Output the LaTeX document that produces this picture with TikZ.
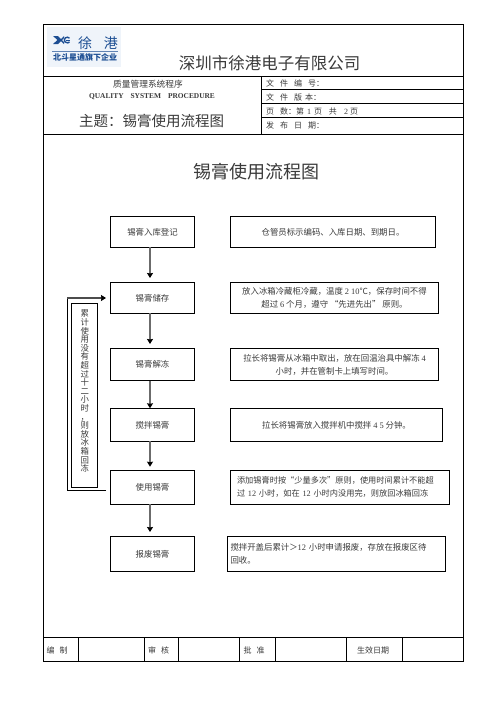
\documentclass[tikz,border=0pt]{standalone}
\usepackage{fontspec}
\setmainfont{Noto Sans CJK SC}
\newfontfamily\latf{Liberation Serif}
\newcommand{\latn}[1]{{\latf #1}}
\usetikzlibrary{arrows.meta}
\definecolor{inkc}{HTML}{3A3A3A}
\definecolor{logoblue}{HTML}{1C4E93}
\definecolor{logobg}{HTML}{EFF4FA}
\newcommand{\fs}[2]{\fontsize{#1}{#2}\selectfont}
\tikzset{
  x=1pt,y=-1pt,
  frame/.style={line width=0.9pt,black},
  txt/.style={inner sep=0pt,outer sep=0pt,text=inkc},
  boxn/.style={draw=black,line width=0.9pt,inner sep=0pt,outer sep=0pt,text=inkc,align=center,font=\fs{8.4}{12.8}},
  leftb/.style={boxn,minimum height=31pt,minimum width=84.4pt},
  rightb/.style={boxn,minimum height=31pt},
  flow/.style={draw=black!58,line width=1.7pt,-{Stealth[color=black,length=5pt,width=6pt,inset=0.5pt]}},
  hd/.style={txt,anchor=west,font=\fs{8}{10}},
  ft/.style={txt,font=\fs{8}{10}}
}
\begin{document}
\begin{tikzpicture}
\useasboundingbox (0,0) rectangle (496,702);
\fill[white] (0,0) rectangle (496,702);
% form
\draw[frame] (43.5,24.5) rectangle (463.3,661.3);
\draw[frame] (43.5,76) -- (463.3,76);
\draw[frame] (43.5,134) -- (463.3,134);
\draw[frame] (261,76) -- (261,134);
\draw[frame] (261,89.5) -- (463.3,89.5);
\draw[frame] (261,103.5) -- (463.3,103.5);
\draw[frame] (261,117.5) -- (463.3,117.5);
\draw[frame] (43.5,637.5) -- (463.3,637.5);
\foreach \xx in {78,144,178,239,275,346,402} \draw[frame] (\xx,637.5) -- (\xx,661.3);
% logo
\fill[logobg] (47,27) rectangle (121,67);
\fill[logoblue] (53,36) -- (58,36) -- (61,39) -- (64,36) -- (64,38) -- (62,40) -- (64,42) -- (64,44) -- (61,41) -- (58,44) -- (53,44) -- (57.5,40) -- cycle;
\draw[logoblue,line width=1.4pt] (69.5,38.2) arc (-40:-320:2.9) ;
\draw[logoblue,line width=1pt] (65.5,40) -- (69.5,40);
\draw[logoblue!70,line width=0.4pt] (52,51) -- (118,51);
\node[txt,text=logoblue] (logoa) at (98,43) {\fs{14}{16}徐\hspace{12pt}港};
\node[txt,text=logoblue] (logob) at (85,57) {\fs{8}{10}\bfseries 北斗星通旗下企业};
% header texts
\node[txt] (company) at (269.5,63) {\fs{16.5}{18}深圳市徐港电子有限公司};
\node[txt] (qm) at (148,84) {\fs{8.7}{10}质量管理系统程序};
\node[txt] (qsp) at (152,97) {\fs{7.4}{9}\latf\bfseries QUALITY\hspace{7pt}SYSTEM\hspace{7pt}PROCEDURE};
\node[txt] (subj) at (151.5,120.5) {\fs{14.5}{16}主题：锡膏使用流程图};
\node[hd] (h1) at (266,83) {文\hspace{6pt}件\hspace{6pt}编\hspace{6pt}号：};
\node[hd] (h2) at (266,97) {文\hspace{6pt}件\hspace{6pt}版\hspace{3pt}本：};
\node[hd] (h3) at (266,111) {页\hspace{6pt}数：第\hspace{3pt}\latn{1}\hspace{3pt}页\hspace{7pt}共\hspace{7pt}\latn{2}\hspace{2pt}页};
\node[hd] (h4) at (266,125.5) {发\hspace{6pt}布\hspace{6pt}日\hspace{6pt}期：};
% title
\node[txt] (title) at (256,172) {\fs{18}{20}锡膏使用流程图};
% left boxes
\node[leftb] (a) at (152.5,231.8) {锡膏入库登记};
\node[leftb] (b) at (152.5,297.8) {锡膏储存};
\node[leftb,minimum height=32.4pt] (c) at (152.5,364.5) {锡膏解冻};
\node[leftb,minimum height=33pt] (d) at (152.5,424.8) {搅拌锡膏};
\node[leftb,minimum height=34pt] (e) at (152.5,487.3) {使用锡膏};
\node[leftb,minimum height=35pt] (f) at (152.5,553.8) {报废锡膏};
% right boxes
\node[rightb,minimum width=205.4pt] (ra) at (333,231.8) {仓管员标示编码、入库日期、到期日。};
\node[rightb,minimum width=208.4pt] (rb) at (334.5,297.8) {放入冰箱冷藏柜冷藏，温度 \latn{2 10}℃，保存时间不得\\超过 \latn{6} 个月，遵守 “先进先出” 原则。};
\node[rightb,minimum width=208.4pt,minimum height=32.4pt] (rc) at (334.5,364.5) {拉长将锡膏从冰箱中取出，放在回温治具中解冻 \latn{4}\\小时，并在管制卡上填写时间。};
\node[rightb,minimum width=212.4pt,minimum height=33pt] (rd) at (336.5,424.8) {拉长将锡膏放入搅拌机中搅拌 \latn{4 5} 分钟。};
\node[rightb,minimum width=219.4pt,minimum height=34pt,text width=206pt,inner xsep=6.7pt,align=left,font=\fs{8.2}{13}] (re) at (340,487.3) {\rlap{添加锡膏时按“少量多次”原则，使用时间累计不能超}\\\rlap{过 \latn{12} 小时，如在 \latn{12} 小时内没用完，则放回冰箱回冻}};
\node[rightb,minimum width=218.4pt,minimum height=35pt,text width=212pt,inner xsep=3.2pt,align=left,font=\fs{8.4}{13.3}] (rf) at (336.5,553.8) {搅拌开盖后累计＞\latn{12} 小时申请报废，存放在报废区待\\回收。};
% side box
\node[boxn,minimum width=26pt,minimum height=184pt,text width=26pt,font=\fs{8.4}{8.6}] (side) at (84.7,395.3) {累\\计\\使\\用\\没\\有\\超\\过\\十\\二\\小\\时\\，\\则\\放\\冰\\箱\\回\\冻\\\mbox{}};
% flow arrows
\draw[flow,shorten >=4.3pt] ([xshift=-2.5pt]a.south) -- ([xshift=-2.5pt]b.north);
\draw[flow,shorten >=4.3pt] ([xshift=-2.5pt]b.south) -- ([xshift=-2.5pt]c.north);
\draw[flow] ([xshift=-2.5pt]c.south) -- ([xshift=-2.5pt]d.north);
\draw[flow,shorten >=3.6pt] ([xshift=-2.5pt]d.south) -- ([xshift=-2.5pt]e.north);
\draw[flow,shorten >=4.3pt] ([xshift=-2.5pt]e.south) -- ([xshift=-2.5pt]f.north);
% return loop
\coordinate (ls) at (106,490.3);
\coordinate (lc) at (67.3,490.3);
\coordinate (ld) at (67.3,298);
\coordinate (le) at (106,298);
\draw[frame] (ls) -- (lc) -- (ld);
\draw[draw=black!70,line width=1.2pt,-{Stealth[color=black,length=5pt,width=6pt,inset=0.5pt]}] (ld) -- (le);
% footer
\node[ft] (fa) at (57,650) {编\hspace{5pt}制};
\node[ft] (fb) at (158.5,650) {审\hspace{5pt}核};
\node[ft] (fc) at (254,650) {批\hspace{5pt}准};
\node[ft] (fd) at (373,650) {生效日期};
\end{tikzpicture}
\end{document}
